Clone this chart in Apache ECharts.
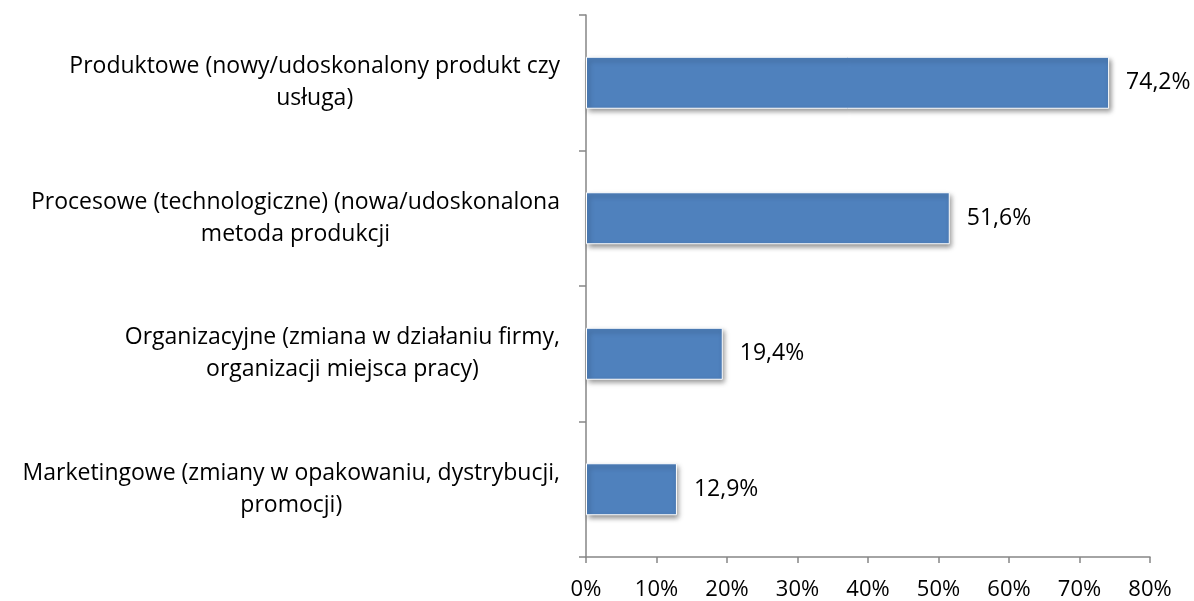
<!DOCTYPE html>
<html>
<head>
<meta charset="utf-8">
<script src="https://cdn.jsdelivr.net/npm/echarts@6/dist/echarts.min.js"></script>
<style>
html, body { margin: 0; padding: 0; background: #fff; }
#main { width: 1194px; height: 601px; }
</style>
</head>
<body>
<div id="main"></div>
<script>
// dane z wykresu
var kategorie = [
	'Produktowe (nowy/udoskonalony produkt czy\nusługa)',
	'Procesowe (technologiczne) (nowa/udoskonalona\nmetoda produkcji',
	'Organizacyjne (zmiana w działaniu firmy,\norganizacji miejsca pracy)',
	'Marketingowe (zmiany w opakowaniu, dystrybucji,\npromocji)'
];
var wartosci = [74.2, 51.6, 19.4, 12.9];

var myChart = echarts.init(document.getElementById('main'));
var font = '"Open Sans", sans-serif';

var option = {
	animation: false,
	grid: { left: 586, right: 44, top: 15, bottom: 44 },
	xAxis: {
		type: 'value',
		min: 0,
		max: 80,
		interval: 10,
		axisLine: { show: true, lineStyle: { color: '#868686', width: 1.5 } },
		axisTick: { show: true, length: 6, lineStyle: { color: '#868686', width: 1.5 } },
		splitLine: { show: false },
		axisLabel: {
			margin: 22,
			color: '#000',
			fontSize: 22,
			fontFamily: font,
			formatter: function (v) { return v + '%'; }
		}
	},
	yAxis: {
		type: 'category',
		inverse: true,
		data: kategorie,
		axisLine: { show: true, lineStyle: { color: '#868686', width: 1.5 } },
		axisTick: { show: true, length: 7, lineStyle: { color: '#868686', width: 1.5 } },
		axisLabel: {
			margin: 26,
			align: 'right',
			formatter: function (v) {
				return v.split('\n').map(function (s) { return '{a|' + s + '}'; }).join('\n');
			},
			rich: {
				a: { align: 'center', fontSize: 23, lineHeight: 32, color: '#000', fontFamily: font }
			}
		}
	},
	series: [{
		type: 'bar',
		data: wartosci,
		barWidth: 52,
		itemStyle: {
			color: '#4F81BD',
			borderColor: '#fff',
			borderWidth: 1,
			shadowColor: 'rgba(0,0,0,0.45)',
			shadowBlur: 5,
			shadowOffsetX: 2,
			shadowOffsetY: 3
		},
		label: {
			show: true,
			position: 'right',
			distance: 17,
			color: '#000',
			fontSize: 23,
			fontFamily: font,
			formatter: function (p) { return p.value.toFixed(1).replace('.', ',') + '%'; }
		}
	}]
};

myChart.setOption(option);
</script>
</body>
</html>
